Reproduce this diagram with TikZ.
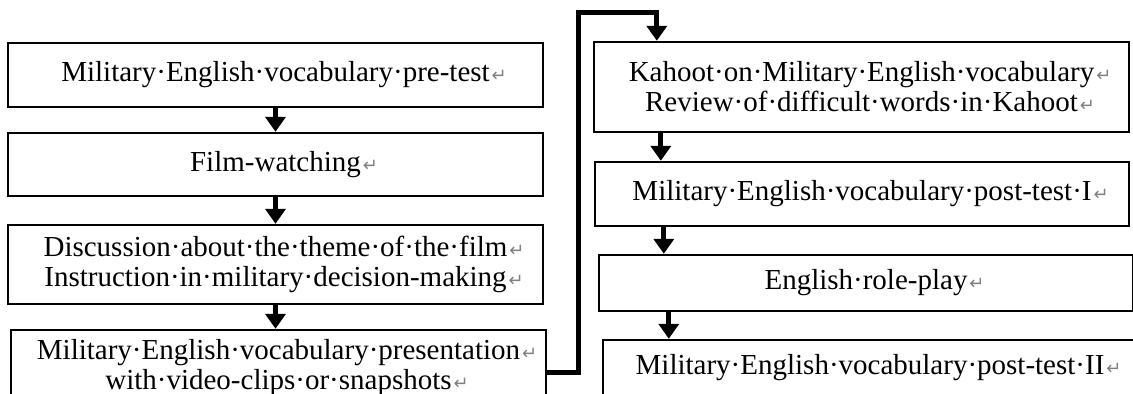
\documentclass[tikz,border=0pt]{standalone}
\usepackage{fontspec}
\setmainfont{Liberation Serif}
\newfontfamily\retfont{DejaVu Sans}
\usetikzlibrary{arrows.meta}

% Word paragraph mark, hanging to the right of the centred line
\newcommand{\retmark}{\rlap{\hspace{1pt}\textcolor{gray}{\retfont\fontsize{9}{9}\selectfont ↵}}}

\begin{document}
\begin{tikzpicture}[x=0.5pt, y=-0.5pt, >={Triangle[width=10pt, length=7.5pt]},
		stage/.style={rectangle, draw=black, fill=white, line width=1.2pt, minimum width=267.5pt, inner sep=0pt, align=center, font=\fontsize{14.5}{15}\selectfont},
		link/.style={->, line width=2.5pt}]
		
		\useasboundingbox (0,0) rectangle (1133,394);
		\clip (0,0) rectangle (1133,394);
		
		% Left column
		\node[stage, minimum height=32pt] (pretest) at (275.5,75) {Military·English·vocabulary·pre-test\retmark};
		\node[stage, minimum height=31.5pt] (film) at (275.5,164.5) {Film-watching\retmark};
		\node[stage, minimum height=39.5pt] (discuss) at (275.5,264.5) {Discussion·about·the·theme·of·the·film\retmark\\Instruction·in·military·decision-making\retmark};
		\node[stage, minimum height=38pt] (present) at (278.5,368) {Military·English·vocabulary·presentation\retmark\\with·video-clips·or·snapshots\retmark};
		
		% Right column
		\node[stage, minimum height=45pt] (kahoot) at (861.5,87) {Kahoot·on·Military·English·vocabulary\retmark\\Review·of·difficult·words·in·Kahoot\retmark};
		\node[stage, minimum width=267pt, minimum height=32pt] (postone) at (862,194) {Military·English·vocabulary·post-test·I\retmark};
		\node[stage, minimum width=267pt, minimum height=28pt] (roleplay) at (866,283) {English·role-play\retmark};
		\node[stage, minimum width=267pt, minimum height=28pt] (posttwo) at (870,368) {Military·English·vocabulary·post-test·II\retmark};
		
		% Arrows, left
		\draw[link] (pretest) -- (film);
		\draw[link] (film) -- (discuss);
		\draw[link] (discuss.south) -- (discuss.south |- present.north);
		
		% Jump to the right column
		\coordinate (turn) at (578,13);
		\coordinate (kin) at ([xshift=32pt]kahoot.north west);
		\draw[link] ([yshift=-2.5pt]present.east) -| (turn) -| (kin);
		
		% Arrows, right
		\coordinate (kout) at ([xshift=34pt]kahoot.south west);
		\coordinate (pout) at ([xshift=35pt]postone.south west);
		\coordinate (rout) at ([xshift=35.5pt]roleplay.south west);
		\draw[link] (kout) -- (kout |- postone.north);
		\draw[link] (pout) -- (pout |- roleplay.north);
		\draw[link] (rout) -- (rout |- posttwo.north);
		
	\end{tikzpicture}
\end{document}
